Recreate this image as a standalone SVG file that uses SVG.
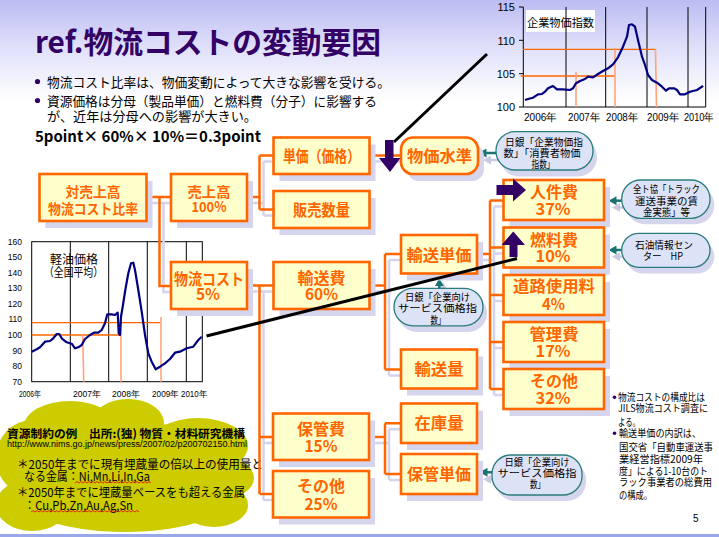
<svg xmlns="http://www.w3.org/2000/svg" width="719" height="537" viewBox="0 0 719 537">
<defs>
<linearGradient id="bg" x1="0" y1="0" x2="0" y2="1">
<stop offset="0" stop-color="#bcbcf3"/>
<stop offset="0.45" stop-color="#dedefa"/>
<stop offset="1" stop-color="#ffffff"/>
</linearGradient>
<marker id="ah" viewBox="0 0 8 9" refX="3" refY="4.5" markerWidth="8" markerHeight="9" orient="auto" markerUnits="userSpaceOnUse"><path d="M0 0 L8 4.5 L0 9z" fill="#1a7271"/></marker>
<marker id="ahs" viewBox="0 0 8 9" refX="3" refY="4.5" markerWidth="8" markerHeight="9" orient="auto" markerUnits="userSpaceOnUse"><path d="M0 0 L8 4.5 L0 9z" fill="#c9c9e2"/></marker>
</defs>
<style>
.ja{font-family:"Noto Sans CJK JP","Noto Sans",sans-serif}
.lat{font-family:"Liberation Sans",Arial,sans-serif}
.box{fill:#ffffcc;stroke:#ff6600;stroke-width:2.6}
.bsh{fill:#d5d5ee}
.nt{font-family:"Noto Sans CJK JP",sans-serif;font-weight:bold;fill:#ff6600;font-size:16px;text-anchor:middle}
.nts{font-size:14px}
.con{stroke:#ff6600;stroke-width:2.5;fill:none}
.consh{stroke:#d3d3ec;stroke-width:2.5;fill:none}
.call{fill:#dde3f7;stroke:#2a7c7b;stroke-width:1.3}
.csh{fill:#d5d5ee}
.ct{font-family:"Noto Sans CJK JP",sans-serif;font-size:10px;fill:#000;text-anchor:middle}
.arr{stroke:#1a7271;stroke-width:2.5;fill:none;marker-end:url(#ah)}
.arrsh{stroke:#c9c9e2;stroke-width:2.5;fill:none;marker-end:url(#ahs)}
.pur{fill:#330066}
.axis{stroke:#000;stroke-width:1;fill:none}
.data{stroke:#000080;stroke-width:2.2;fill:none;stroke-linejoin:round}
.oh{stroke:#ff6600;stroke-width:1.3}
.ov{stroke:#ffa47a;stroke-width:1.6}
.lbl{font-family:"Liberation Sans",Arial,sans-serif;fill:#000}
.note{font-family:"Noto Sans CJK JP",sans-serif;font-size:10px;fill:#000}
.wavy{stroke:#e00000;stroke-width:0.8;fill:none}
</style>

<g id="background">
<rect x="0" y="0" width="719" height="537" fill="#ffffff"/>
<rect x="0" y="0" width="719" height="100" fill="url(#bg)"/>
<rect x="0" y="534" width="719" height="3" fill="#98a8ea"/>
</g>

<g id="title">
<text class="ja" x="35" y="53" font-size="30" font-weight="bold" fill="#330066" textLength="346" lengthAdjust="spacingAndGlyphs">ref.物流コストの変動要因</text>
<circle class="pur" cx="37.5" cy="81.5" r="2.6"/>
<text class="ja" x="47" y="86.5" font-size="13" fill="#000" textLength="343" lengthAdjust="spacingAndGlyphs">物流コスト比率は、物価変動によって大きな影響を受ける。</text>
<circle class="pur" cx="37.5" cy="100.5" r="2.6"/>
<text class="ja" x="47" y="105.5" font-size="13" fill="#000" textLength="330" lengthAdjust="spacingAndGlyphs">資源価格は分母（製品単価）と燃料費（分子）に影響する</text>
<text class="ja" x="47" y="120.5" font-size="13" fill="#000" textLength="210" lengthAdjust="spacingAndGlyphs">が、近年は分母への影響が大きい。</text>
<text class="ja" x="35" y="142" font-size="15" font-weight="bold" fill="#000" textLength="226" lengthAdjust="spacingAndGlyphs">5point× 60%× 10%＝0.3point</text>
</g>

<g id="chart-top">
<rect x="526" y="10" width="69" height="22" fill="#ffffff"/>
<text class="ja" x="527" y="27" font-size="11.5" fill="#000" textLength="67" lengthAdjust="spacingAndGlyphs">企業物価指数</text>
<path class="axis" d="M523.3 7 V107 H705.7 V7 M566 7 V107 M605.7 7 V107 M647 7 V107 M688 7 V107 M519 7 H523.3 M519 40.3 H523.3 M519 73.7 H523.3 M519 107 H523.3"/>
<g class="lbl" font-size="11" text-anchor="end">
<text x="515" y="11">115</text>
<text x="515" y="44.5">110</text>
<text x="515" y="78">105</text>
<text x="515" y="111">100</text>
</g>
<g class="lbl" font-size="10.5">
<text x="524" y="121" textLength="33" lengthAdjust="spacingAndGlyphs">2006年</text>
<text x="568" y="121" textLength="32" lengthAdjust="spacingAndGlyphs">2007年</text>
<text x="606" y="121" textLength="32" lengthAdjust="spacingAndGlyphs">2008年</text>
<text x="647" y="121" textLength="32" lengthAdjust="spacingAndGlyphs">2009年</text>
<text x="684" y="121" textLength="30" lengthAdjust="spacingAndGlyphs">2010年</text>
</g>
<line class="oh" x1="523" y1="49.3" x2="655.5" y2="49.3"/>
<line class="oh" x1="520.7" y1="76" x2="615" y2="76"/>
<line class="ov" x1="615" y1="47.7" x2="615" y2="107"/>
<line class="ov" x1="576" y1="71.7" x2="576" y2="107"/>
<line class="ov" x1="655.5" y1="49.3" x2="656.5" y2="107"/>
<polyline class="data" points="525,100 528,99 533,97.7 538,94.3 542,94 545,91.7 548,88.3 553,86 557,89.3 563,89.3 570,90 573,88.3 576,83.3 580,81 585,79 588,76.7 593,77.3 598,74 603,71 608,68.3 613,64.3 618,57.3 623,46.7 627,36.7 629,25 632,24.3 635,26.7 638,40 642,56.7 645,65 648,75 652,80 657,82.7 662,86.7 666,90.7 669,88.3 674,88.3 677,90 680,94.3 685,94.3 690,91.7 697,90 702,86.7 703,85.7"/>
</g>

<g id="chart-left">
<rect class="axis" x="31.7" y="241.7" width="170.6" height="140"/>
<path class="axis" d="M70.3 241.7 V381.7 M108.7 241.7 V381.7 M147.3 241.7 V381.7 M186.3 241.7 V381.7"/>
<g class="lbl" font-size="8.5" text-anchor="end">
<text x="22" y="244.7">160</text>
<text x="22" y="260.3">150</text>
<text x="22" y="275.7">140</text>
<text x="22" y="291.3">130</text>
<text x="22" y="307">120</text>
<text x="22" y="322.3">110</text>
<text x="22" y="338">100</text>
<text x="22" y="353.7">90</text>
<text x="22" y="369">80</text>
<text x="22" y="384.7">70</text>
</g>
<g class="lbl" font-size="8.5">
<text x="19" y="397" textLength="22" lengthAdjust="spacingAndGlyphs">2006年</text>
<text x="73" y="397" textLength="28" lengthAdjust="spacingAndGlyphs">2007年</text>
<text x="112" y="397" textLength="28" lengthAdjust="spacingAndGlyphs">2008年</text>
<text x="152" y="397" textLength="27" lengthAdjust="spacingAndGlyphs">2009年</text>
<text x="181" y="397" textLength="26" lengthAdjust="spacingAndGlyphs">2010年</text>
</g>
<text class="ja" x="74" y="264" font-size="12" fill="#000" text-anchor="middle" textLength="48" lengthAdjust="spacingAndGlyphs">軽油価格</text>
<text class="ja" x="73.5" y="277" font-size="12" fill="#000" text-anchor="middle" textLength="59" lengthAdjust="spacingAndGlyphs">（全国平均）</text>
<line class="oh" x1="31.7" y1="322.7" x2="160" y2="322.7"/>
<line class="oh" x1="31.7" y1="335" x2="120" y2="335"/>
<line class="ov" x1="82.7" y1="335" x2="83.7" y2="381.7"/>
<line class="ov" x1="121" y1="320" x2="121" y2="381.7"/>
<line class="ov" x1="161" y1="317" x2="161" y2="381.7"/>
<polyline class="data" points="31.7,351.7 36.7,349.3 40,347.3 45,341.7 50,341 53.3,338.3 56.7,334 59.3,334 61.7,338.3 66.7,342.3 71.7,343.7 75,348.3 78.3,347.3 81.7,345 85,339 90,335 94,332.7 98.3,332.7 101.7,330 105,323.3 107.3,314.3 111.7,314.3 115,315 117.7,312.7 118.7,333.3 120,335 121,316.7 122.7,306.7 125.3,290 128.3,273.3 131,263.3 133.3,262.7 135,270 138.3,290 141.7,311.7 145,335 148.3,353.3 151.7,361.7 155.7,369.3 160,366.7 165,363.3 170,359 175,352.7 180,351.7 186.7,348.3 193.3,346.7 198.3,340 201.7,336.7"/>
</g>

<g id="cloud">
<g fill="#cccc00">
<ellipse cx="70" cy="426" rx="46" ry="25"/>
<ellipse cx="128" cy="423" rx="36" ry="24"/>
<ellipse cx="198" cy="446" rx="50" ry="28"/>
<ellipse cx="224" cy="478" rx="30" ry="20"/>
<ellipse cx="214" cy="505" rx="34" ry="22"/>
<ellipse cx="32" cy="458" rx="36" ry="38"/>
<ellipse cx="125" cy="492" rx="112" ry="40"/>
<ellipse cx="125" cy="458" rx="112" ry="36"/>
<ellipse cx="32" cy="505" rx="36" ry="26"/>
</g>
<text class="ja" x="7" y="437.5" font-size="11.5" font-weight="bold" fill="#000" textLength="238" lengthAdjust="spacingAndGlyphs">資源制約の例　出所:(独) 物質・材料研究機構</text>
<text class="lat" x="7" y="446.5" font-size="8.5" fill="#000" textLength="240" lengthAdjust="spacingAndGlyphs">http://www.nims.go.jp/news/press/2007/02/p200702150.html</text>
<text class="ja" x="17" y="468.5" font-size="12" fill="#000" textLength="246" lengthAdjust="spacingAndGlyphs">＊2050年までに現有埋蔵量の倍以上の使用量と</text>
<text class="ja" x="24" y="480.5" font-size="12" fill="#000" textLength="126" lengthAdjust="spacingAndGlyphs">なる金属：Ni,Mn,Li,In,Ga</text>
<text class="ja" x="17" y="497" font-size="12" fill="#000" textLength="228" lengthAdjust="spacingAndGlyphs">＊2050年までに埋蔵量ベースをも超える金属</text>
<text class="ja" x="24" y="509.5" font-size="12" fill="#000" textLength="109" lengthAdjust="spacingAndGlyphs">：Cu,Pb,Zn,Au,Ag,Sn</text>
<path class="wavy" d="M75 483 l2-1.5 2 1.5 2-1.5 2 1.5 2-1.5 2 1.5 2-1.5 2 1.5 2-1.5 2 1.5 2-1.5 2 1.5 2-1.5 2 1.5 2-1.5 2 1.5 2-1.5 2 1.5 2-1.5 2 1.5 2-1.5 2 1.5 2-1.5 2 1.5 2-1.5 2 1.5 2-1.5 2 1.5 2-1.5 2 1.5 2-1.5 2 1.5 2-1.5 2 1.5 2-1.5 2 1.5 2-1.5 2 1.5"/>
<path class="wavy" d="M31 512 l2-1.5 2 1.5 2-1.5 2 1.5 2-1.5 2 1.5 2-1.5 2 1.5 2-1.5 2 1.5 2-1.5 2 1.5 2-1.5 2 1.5 2-1.5 2 1.5 2-1.5 2 1.5 2-1.5 2 1.5 2-1.5 2 1.5 2-1.5 2 1.5 2-1.5 2 1.5 2-1.5 2 1.5 2-1.5 2 1.5 2-1.5 2 1.5 2-1.5 2 1.5 2-1.5 2 1.5 2-1.5 2 1.5 2-1.5 2 1.5 2-1.5 2 1.5 2-1.5 2 1.5 2-1.5 2 1.5 2-1.5 2 1.5 2-1.5 2 1.5 2-1.5 2 1.5 2-1.5 2 1.5"/>
</g>

<g id="connectors">
<g transform="translate(4,6)">
<path class="consh" d="M147 197 H171 M159.5 197 V286 H171 M247 197 H259.5 M259.5 155.5 V209.5 M259.5 155.5 H273.5 M259.5 209.5 H273.5 M247 285.5 H273.5 M259.5 285.5 V494 M259.5 437 H273 M259.5 494 H273 M369.5 155.5 H401 M369.5 285.5 H385 M385 254 V369.5 M385 254 H401 M385 369.5 H401 M369 437 H385 M385 423.3 V474 M385 423.3 H401 M385 474 H401 M477 254 H490 M490 200.5 V389 M490 200.5 H503.5 M490 247.5 H503.5 M490 295 H503.5 M490 342 H503.5 M490 389 H503.5"/>
</g>
<path class="con" d="M147 197 H171 M159.5 197 V286 H171 M247 197 H259.5 M259.5 155.5 V209.5 M259.5 155.5 H273.5 M259.5 209.5 H273.5 M247 285.5 H273.5 M259.5 285.5 V494 M259.5 437 H273 M259.5 494 H273 M369.5 155.5 H401 M369.5 285.5 H385 M385 254 V369.5 M385 254 H401 M385 369.5 H401 M369 437 H385 M385 423.3 V474 M385 423.3 H401 M385 474 H401 M477 254 H490 M490 200.5 V389 M490 200.5 H503.5 M490 247.5 H503.5 M490 295 H503.5 M490 342 H503.5 M490 389 H503.5"/>
<line class="arrsh" x1="500" y1="160" x2="488" y2="160"/>
<line class="arr" x1="496" y1="153" x2="483.5" y2="153"/>
<line class="arrsh" x1="625" y1="207.5" x2="617" y2="207.5"/>
<line class="arr" x1="621.7" y1="200.7" x2="613.5" y2="200.7"/>
<line class="arrsh" x1="625" y1="256.7" x2="617" y2="256.7"/>
<line class="arr" x1="621.7" y1="250" x2="613.5" y2="250"/>
<line class="arrsh" x1="443" y1="292" x2="443" y2="287"/>
<line class="arr" x1="439.3" y1="288.3" x2="439.3" y2="283.3"/>
<line class="arrsh" x1="496" y1="479.3" x2="488" y2="479.3"/>
<line class="arr" x1="492.5" y1="472.3" x2="484.5" y2="472.3"/>
</g>

<g id="n-ratio">
<rect class="bsh" x="45.5" y="181" width="107" height="47"/>
<rect class="box" x="39.5" y="174" width="107" height="47"/>
<text class="nt nts" x="93" y="197" textLength="55" lengthAdjust="spacingAndGlyphs">対売上高</text>
<text class="nt nts" x="93" y="213.5" textLength="90" lengthAdjust="spacingAndGlyphs">物流コスト比率</text>
</g>
<g id="n-sales">
<rect class="bsh" x="177" y="181" width="76" height="47"/>
<rect class="box" x="171" y="174" width="76" height="47"/>
<text class="nt nts" x="209" y="197" textLength="43" lengthAdjust="spacingAndGlyphs">売上高</text>
<text class="nt nts" x="209" y="212" textLength="35" lengthAdjust="spacingAndGlyphs">100%</text>
</g>
<g id="n-logicost">
<rect class="bsh" x="177" y="269" width="76" height="47"/>
<rect class="box" x="171" y="262" width="76" height="47"/>
<text class="nt" x="209" y="284.5" textLength="70" lengthAdjust="spacingAndGlyphs">物流コスト</text>
<text class="nt" x="208" y="300" textLength="24" lengthAdjust="spacingAndGlyphs">5%</text>
</g>
<g id="n-price">
<rect class="bsh" x="279.5" y="144.5" width="96" height="36.5"/>
<rect class="box" x="273.5" y="137.5" width="96" height="36.5"/>
<text class="nt" x="321.5" y="161.5" textLength="77" lengthAdjust="spacingAndGlyphs">単価（価格）</text>
</g>
<g id="n-volume">
<rect class="bsh" x="279.5" y="198" width="96" height="37"/>
<rect class="box" x="273.5" y="191" width="96" height="37"/>
<text class="nt" x="321.5" y="215.5" textLength="57" lengthAdjust="spacingAndGlyphs">販売数量</text>
</g>
<g id="n-pricelevel">
<rect class="bsh" x="407" y="144.5" width="77" height="36.5" rx="12"/>
<rect class="box" x="401" y="137.5" width="77" height="36.5" rx="12"/>
<text class="nt" x="439.5" y="161.5" textLength="65" lengthAdjust="spacingAndGlyphs">物価水準</text>
</g>
<g id="n-transport">
<rect class="bsh" x="279.5" y="269" width="96" height="47"/>
<rect class="box" x="273.5" y="262" width="96" height="47"/>
<text class="nt" x="321.5" y="284" textLength="48" lengthAdjust="spacingAndGlyphs">輸送費</text>
<text class="nt" x="321.5" y="300" textLength="33" lengthAdjust="spacingAndGlyphs">60%</text>
</g>
<g id="n-tunit">
<rect class="bsh" x="407" y="242" width="76" height="38.5"/>
<rect class="box" x="401" y="235" width="76" height="38.5"/>
<text class="nt" x="439" y="260.5" textLength="65" lengthAdjust="spacingAndGlyphs">輸送単価</text>
</g>
<g id="n-tvol">
<rect class="bsh" x="407" y="356.5" width="76" height="39"/>
<rect class="box" x="401" y="349.5" width="76" height="39"/>
<text class="nt" x="439" y="375" textLength="49" lengthAdjust="spacingAndGlyphs">輸送量</text>
</g>
<g id="n-stock">
<rect class="bsh" x="407" y="410.5" width="76" height="39.5"/>
<rect class="box" x="401" y="403.5" width="76" height="39.5"/>
<text class="nt" x="439" y="429" textLength="49" lengthAdjust="spacingAndGlyphs">在庫量</text>
</g>
<g id="n-sunit">
<rect class="bsh" x="407" y="461" width="76" height="40"/>
<rect class="box" x="401" y="454" width="76" height="40"/>
<text class="nt" x="439" y="480" textLength="64" lengthAdjust="spacingAndGlyphs">保管単価</text>
</g>
<g id="n-storage">
<rect class="bsh" x="279" y="420.5" width="96" height="46.5"/>
<rect class="box" x="273" y="413.5" width="96" height="46.5"/>
<text class="nt" x="321" y="434.5" textLength="48" lengthAdjust="spacingAndGlyphs">保管費</text>
<text class="nt" x="321" y="451.5" textLength="33" lengthAdjust="spacingAndGlyphs">15%</text>
</g>
<g id="n-other25">
<rect class="bsh" x="279" y="478" width="96" height="46.5"/>
<rect class="box" x="273" y="471" width="96" height="46.5"/>
<text class="nt" x="321" y="492" textLength="48" lengthAdjust="spacingAndGlyphs">その他</text>
<text class="nt" x="321" y="510" textLength="33" lengthAdjust="spacingAndGlyphs">25%</text>
</g>
<g id="n-labor">
<rect class="bsh" x="509.5" y="187" width="100.5" height="40"/>
<rect class="box" x="503.5" y="180" width="100.5" height="40"/>
<text class="nt" x="554" y="197.5" textLength="48" lengthAdjust="spacingAndGlyphs">人件費</text>
<text class="nt" x="553" y="215" textLength="35" lengthAdjust="spacingAndGlyphs">37%</text>
</g>
<g id="n-fuel">
<rect class="bsh" x="509.5" y="234.5" width="100.5" height="40"/>
<rect class="box" x="503.5" y="227.5" width="100.5" height="40"/>
<text class="nt" x="554" y="246" textLength="48" lengthAdjust="spacingAndGlyphs">燃料費</text>
<text class="nt" x="553" y="262" textLength="35" lengthAdjust="spacingAndGlyphs">10%</text>
</g>
<g id="n-road">
<rect class="bsh" x="509.5" y="282" width="100.5" height="40"/>
<rect class="box" x="503.5" y="275" width="100.5" height="40"/>
<text class="nt" x="554" y="292" textLength="82" lengthAdjust="spacingAndGlyphs">道路使用料</text>
<text class="nt" x="553.5" y="310" textLength="23" lengthAdjust="spacingAndGlyphs">4%</text>
</g>
<g id="n-admin">
<rect class="bsh" x="509.5" y="329" width="100.5" height="40"/>
<rect class="box" x="503.5" y="322" width="100.5" height="40"/>
<text class="nt" x="554" y="339.5" textLength="49" lengthAdjust="spacingAndGlyphs">管理費</text>
<text class="nt" x="553" y="357" textLength="35" lengthAdjust="spacingAndGlyphs">17%</text>
</g>
<g id="n-other32">
<rect class="bsh" x="509.5" y="376" width="100.5" height="40"/>
<rect class="box" x="503.5" y="369" width="100.5" height="40"/>
<text class="nt" x="554" y="386.5" textLength="48" lengthAdjust="spacingAndGlyphs">その他</text>
<text class="nt" x="553" y="404" textLength="35" lengthAdjust="spacingAndGlyphs">32%</text>
</g>

<g id="c-boj-cgpi">
<rect class="csh" x="500" y="138" width="97" height="38.5" rx="19"/>
<rect class="call" x="496" y="131.7" width="97" height="38.3" rx="19"/>
<text class="ct" x="544" y="145.5" textLength="78" lengthAdjust="spacingAndGlyphs">日銀「企業物価指</text>
<text class="ct" x="542" y="157" textLength="77" lengthAdjust="spacingAndGlyphs">数」「消費者物価</text>
<text class="ct" x="543" y="168" textLength="23" lengthAdjust="spacingAndGlyphs">指数」</text>
</g>
<g id="c-jta">
<rect class="csh" x="626" y="186" width="88.3" height="38.3" rx="19"/>
<rect class="call" x="621.7" y="180" width="88.3" height="38.3" rx="19"/>
<text class="ct" x="666.5" y="193" textLength="67" lengthAdjust="spacingAndGlyphs">全ト協「トラック</text>
<text class="ct" x="666.5" y="204.5" textLength="63" lengthAdjust="spacingAndGlyphs">運送事業の賃</text>
<text class="ct" x="666.5" y="215.5" textLength="47" lengthAdjust="spacingAndGlyphs">金実態」等</text>
</g>
<g id="c-oil">
<rect class="csh" x="626" y="239.5" width="88.3" height="34" rx="17"/>
<rect class="call" x="621.7" y="233.3" width="88.3" height="34" rx="17"/>
<text class="ct" x="664" y="248.8" textLength="58" lengthAdjust="spacingAndGlyphs">石油情報セン</text>
<text class="ct" x="663" y="260.4" textLength="40" lengthAdjust="spacingAndGlyphs">ター　HP</text>
</g>
<g id="c-boj-spi1">
<rect class="csh" x="398" y="294.5" width="89" height="37.5" rx="19"/>
<rect class="call" x="394" y="288.3" width="89" height="37.5" rx="19"/>
<text class="ct" x="437.5" y="300.5" textLength="65" lengthAdjust="spacingAndGlyphs">日銀「企業向け</text>
<text class="ct" x="437.5" y="312" textLength="79" lengthAdjust="spacingAndGlyphs">サービス価格指</text>
<text class="ct" x="438" y="323.5" textLength="15" lengthAdjust="spacingAndGlyphs">数」</text>
</g>
<g id="c-boj-spi2">
<rect class="csh" x="496" y="461" width="90" height="40" rx="19"/>
<rect class="call" x="492" y="455" width="90" height="40" rx="19"/>
<text class="ct" x="537" y="465.5" textLength="65" lengthAdjust="spacingAndGlyphs">日銀「企業向け</text>
<text class="ct" x="537" y="477" textLength="79" lengthAdjust="spacingAndGlyphs">サービス価格指</text>
<text class="ct" x="537.5" y="488" textLength="15" lengthAdjust="spacingAndGlyphs">数」</text>
</g>

<g id="pointers">
<line x1="487" y1="54" x2="394" y2="142" stroke="#000" stroke-width="3"/>
<line x1="206.5" y1="336" x2="517" y2="258.5" stroke="#000" stroke-width="3"/>
<polygon class="pur" points="385,140 393.5,140 393.5,158 400.5,158 390,172 379,158 385,158"/>
<polygon class="pur" points="496.5,185 513,185 513,178.5 526,190 513,201.5 513,195 496.5,195"/>
<polygon class="pur" points="513.3,231.5 525,245 517.5,245 517.5,257 509.5,257 509.5,245 501.5,245"/>
</g>

<g id="notes">
<circle class="pur" cx="614.5" cy="397.3" r="1.8"/>
<text class="note" x="618" y="401.3" textLength="87" lengthAdjust="spacingAndGlyphs">物流コストの構成比は</text>
<text class="note" x="618" y="412.3" textLength="90" lengthAdjust="spacingAndGlyphs">JILS物流コスト調査に</text>
<text class="note" x="618" y="425.7" textLength="22" lengthAdjust="spacingAndGlyphs">よる。</text>
<circle class="pur" cx="614.5" cy="433.3" r="1.8"/>
<text class="note" x="619" y="437.3" textLength="82" lengthAdjust="spacingAndGlyphs">輸送単価の内訳は、</text>
<text class="note" x="619" y="450.7" textLength="94" lengthAdjust="spacingAndGlyphs">国交省「自動車運送事</text>
<text class="note" x="619" y="463.3" textLength="84" lengthAdjust="spacingAndGlyphs">業経営指標2009年</text>
<text class="note" x="619" y="474.7" textLength="89" lengthAdjust="spacingAndGlyphs">度」による1-10台のト</text>
<text class="note" x="619" y="486.3" textLength="93" lengthAdjust="spacingAndGlyphs">ラック事業者の総費用</text>
<text class="note" x="619" y="499" textLength="33" lengthAdjust="spacingAndGlyphs">の構成。</text>
<text class="lat" x="693" y="522" font-size="10" fill="#000">5</text>
</g>
</svg>
